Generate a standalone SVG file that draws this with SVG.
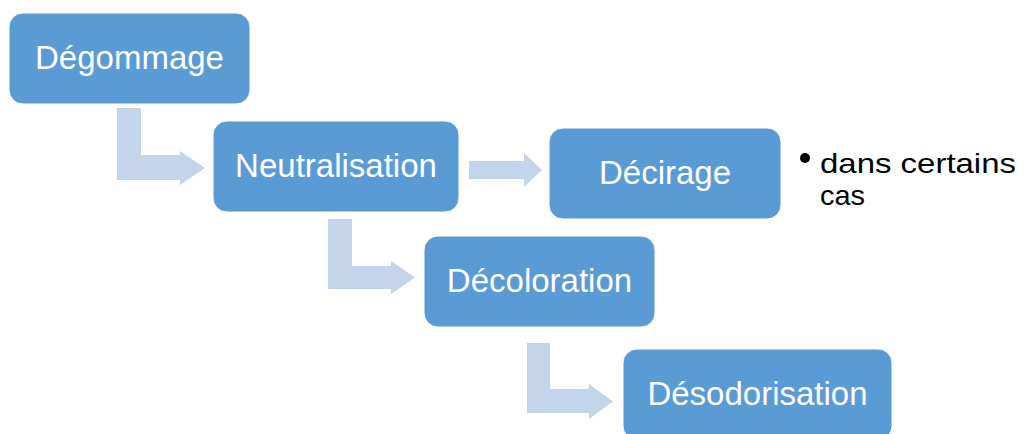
<svg xmlns="http://www.w3.org/2000/svg" width="1027" height="434" viewBox="0 0 1027 434">
<style>
.box{fill:#5B9BD5;stroke:#FFFFFF;stroke-width:1}
.lbl{font-family:"Liberation Sans",Arial,sans-serif;font-size:33px;fill:#FFFFFF;text-anchor:middle}
.arr{fill:#C4D5EB}
.note{font-family:"Liberation Sans",Arial,sans-serif;font-size:28.5px;fill:#000000}
</style>
<rect width="1027" height="434" fill="#FFFFFF"/>
<g id="connectors">
<polygon class="arr" points="117,108 141,108 141,155 180,155 180,151 205,168 180,185 180,180 117,180"/>
<polygon class="arr" points="469,161 524,161 524,153 542,170 524,187 524,179 469,179"/>
<polygon class="arr" points="328,219 352,219 352,266 391,266 391,261 415,277.5 391,294 391,289 328,289"/>
<polygon class="arr" points="527,343 550,343 550,389 589,389 589,384 613,401.5 589,419 589,413 527,413"/>
</g>
<g id="degommage">
<rect class="box" x="9" y="13" width="241" height="91" rx="14"/>
<text class="lbl" x="129.5" y="69">Dégommage</text>
</g>
<g id="neutralisation">
<rect class="box" x="213" y="121" width="246" height="91" rx="14"/>
<text class="lbl" x="336" y="177">Neutralisation</text>
</g>
<g id="decirage">
<rect class="box" x="549" y="128" width="232" height="91" rx="14"/>
<text class="lbl" x="665" y="184">Décirage</text>
</g>
<g id="note">
<circle cx="805" cy="158" r="5" fill="#000000"/>
<text class="note" x="820" y="173" textLength="196" lengthAdjust="spacingAndGlyphs">dans certains</text>
<text class="note" x="820" y="205" textLength="45" lengthAdjust="spacingAndGlyphs">cas</text>
</g>
<g id="decoloration">
<rect class="box" x="424" y="236" width="231" height="91" rx="14"/>
<text class="lbl" x="539.5" y="292">Décoloration</text>
</g>
<g id="desodorisation">
<rect class="box" x="623" y="349" width="269" height="91" rx="14"/>
<text class="lbl" x="757.5" y="405">Désodorisation</text>
</g>
</svg>
